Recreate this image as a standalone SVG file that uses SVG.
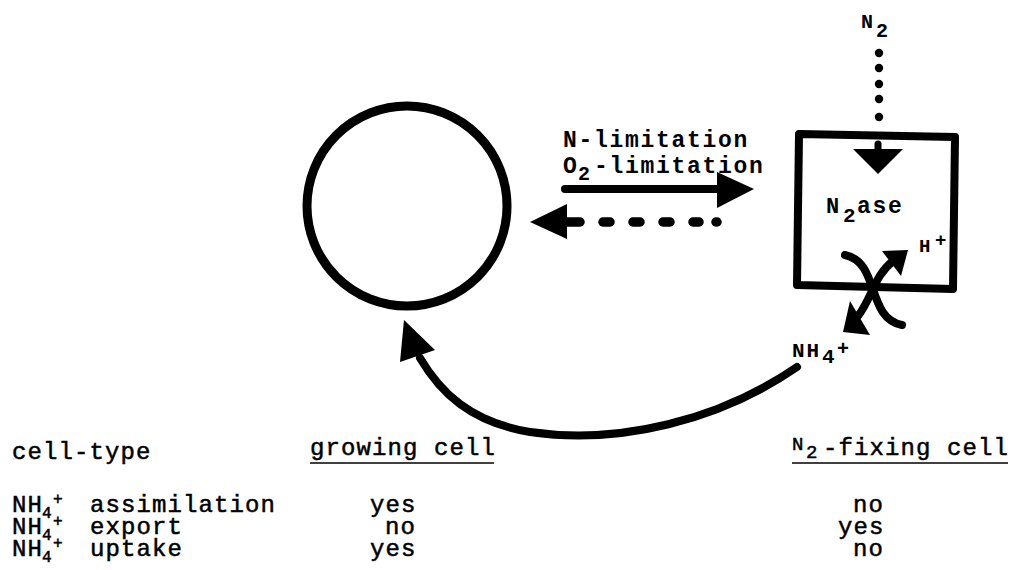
<svg xmlns="http://www.w3.org/2000/svg" width="1010" height="570" viewBox="0 0 1010 570">
<style>
.t{font-family:"Liberation Mono","Courier New",monospace;fill:#000}
.b{font-weight:bold}
.lab{font-size:23px;letter-spacing:1.7px;font-weight:bold}
.tab{font-size:24px;letter-spacing:1.1px;stroke:#000;stroke-width:0.5px}
.sm{font-size:16px;letter-spacing:0}
.ln{fill:none;stroke:#000;stroke-linecap:round;stroke-linejoin:round}
</style>
<rect width="1010" height="570" fill="#fff"/>
<g id="growing-cell">
<circle cx="407" cy="206" r="100" fill="none" stroke="#000" stroke-width="9"/>
</g>
<g id="fixing-cell">
<path class="ln" d="M799,134 L955,137 L953,289 L797,285 Z" stroke-width="8"/>
<text class="t b" x="826" y="213" font-size="22">N</text>
<text class="t b" x="843" y="222" font-size="21">2</text>
<text class="t lab" x="857" y="213">ase</text>
<text class="t b" x="919" y="252" font-size="19">H</text>
<text class="t b" x="935" y="246" font-size="19">+</text>
</g>
<g id="n2-label">
<text class="t b" x="861" y="28" font-size="20">N</text>
<text class="t b" x="876" y="37" font-size="20">2</text>
</g>
<g id="nh4-label">
<text class="t b" x="792" y="357" font-size="21" letter-spacing="2">NH</text>
<text class="t b" x="822" y="363" font-size="21">4</text>
<text class="t b" x="837" y="355" font-size="20">+</text>
</g>
<g id="transition-label">
<text class="t lab" x="563" y="147">N-limitation</text>
<text class="t lab" x="563" y="173">O</text>
<text class="t b" x="578" y="180" font-size="20">2</text>
<text class="t lab" x="594" y="173">-limitation</text>
</g>
<g id="connectors">
<line class="ln" x1="565" y1="189" x2="720" y2="189" stroke-width="8"/>
<polygon points="717,172 754,189 717,208" fill="#000"/>
<polygon points="530,222 567,204 567,239" fill="#000"/>
<g class="ln" stroke-width="9.5">
<line x1="566" y1="222" x2="580" y2="222"/>
<line x1="603" y1="222" x2="610" y2="222"/>
<line x1="633" y1="222" x2="640" y2="222"/>
<line x1="663" y1="222" x2="670" y2="222"/>
<line x1="693" y1="222" x2="699" y2="222"/>
<line x1="716" y1="222" x2="717" y2="222"/>
</g>
<g fill="#000">
<circle cx="879" cy="53" r="4.2"/>
<circle cx="879" cy="68" r="4.2"/>
<circle cx="879" cy="84" r="4.2"/>
<circle cx="879" cy="99" r="4.2"/>
<circle cx="879" cy="117" r="4.2"/>
</g>
<line class="ln" x1="878" y1="144" x2="878" y2="152" stroke-width="7"/>
<polygon points="853,149 903,149 878,174" fill="#000"/>
<path class="ln" d="M845,255 C880,262 866,318 902,325" stroke-width="8"/>
<path class="ln" d="M858,316 C872,298 874,276 893,261" stroke-width="8"/>
<polygon points="882,251 908,250 901,276" fill="#000"/>
<polygon points="850,301 843,332 870,335" fill="#000"/>
<path class="ln" d="M797,367 C720,420 620,445 530,432 C470,422 440,392 420,358" stroke-width="8"/>
<polygon points="404,320 400,362 435,350" fill="#000"/>
</g>
<g id="table">
<text class="t tab" x="12" y="459">cell-type</text>
<text class="t tab" x="310" y="455">growing cell</text>
<line x1="310" y1="463" x2="494" y2="463" stroke="#000" stroke-width="1.6"/>
<text class="t" x="792" y="450" font-size="19" stroke="#000" stroke-width="0.5">N</text>
<text class="t" x="806" y="458" font-size="19" stroke="#000" stroke-width="0.5">2</text>
<text class="t tab" x="823" y="455">-fixing cell</text>
<line x1="792" y1="463" x2="1008" y2="463" stroke="#000" stroke-width="1.6"/>
<text class="t tab" x="12" y="512" letter-spacing="0">NH<tspan class="sm" x="42" dy="6">4</tspan><tspan class="sm" x="53" dy="-14">+</tspan><tspan x="90" dy="8" letter-spacing="1.1">assimilation</tspan></text>
<text class="t tab" x="370" y="512">yes</text>
<text class="t tab" x="853" y="512">no</text>
<text class="t tab" x="12" y="534" letter-spacing="0">NH<tspan class="sm" x="42" dy="6">4</tspan><tspan class="sm" x="53" dy="-14">+</tspan><tspan x="90" dy="8" letter-spacing="1.1">export</tspan></text>
<text class="t tab" x="385" y="534">no</text>
<text class="t tab" x="838" y="534">yes</text>
<text class="t tab" x="12" y="556" letter-spacing="0">NH<tspan class="sm" x="42" dy="6">4</tspan><tspan class="sm" x="53" dy="-14">+</tspan><tspan x="90" dy="8" letter-spacing="1.1">uptake</tspan></text>
<text class="t tab" x="370" y="556">yes</text>
<text class="t tab" x="853" y="556">no</text>
</g>
</svg>
